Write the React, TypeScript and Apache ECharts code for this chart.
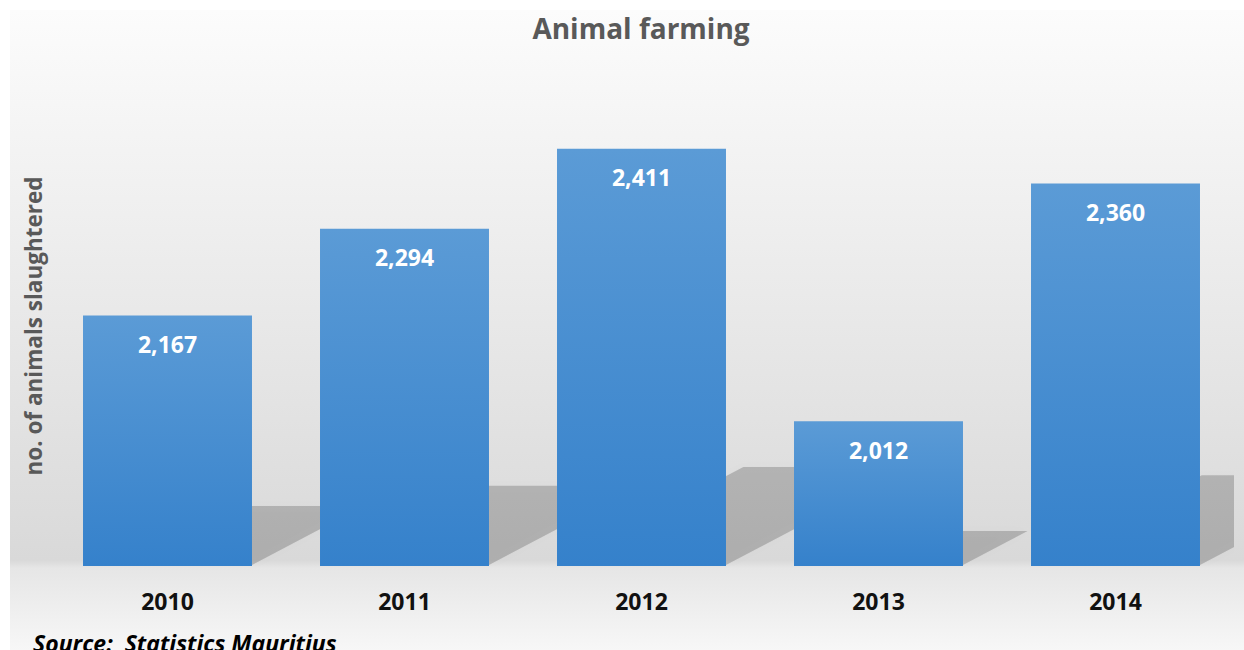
import React, { useEffect, useRef } from "react";
import * as echarts from "echarts";

const categories = ["2010", "2011", "2012", "2013", "2014"];
const slaughtered = [2167, 2294, 2411, 2012, 2360];
const axisMin = 1800;
const axisMax = 2500;
const titleText = "Animal farming";
const yTitle = "no. of animals slaughtered";
const sourceText = "Source:  Statistics Mauritius";

const FONT = "'Open Sans', 'DejaVu Sans', sans-serif";
const BAR_FRAC = 0.713;

export default function App() {
  const ref = useRef<HTMLDivElement>(null);
  useEffect(() => {
    if (!ref.current) return;
    const chart = echarts.init(ref.current, undefined, { renderer: "svg" });
    const option: any = {
      animation: false,
      textStyle: { fontFamily: FONT },
      grid: { left: 49, right: 10, top: 88, bottom: 84, containLabel: false },
      graphic: [
        {
          type: "rect",
          z: -10,
          silent: true,
          shape: { x: 10, y: 10, width: 1234, height: 640 },
          style: {
            fill: new echarts.graphic.LinearGradient(0, 0, 0, 1, [
              { offset: 0, color: "#fcfcfc" },
              { offset: 0.86, color: "#d9d9d9" },
              { offset: 0.872, color: "#e6e6e6" },
              { offset: 1, color: "#f7f7f7" },
            ]),
          },
        },
        {
          type: "text",
          x: 641,
          y: 28,
          style: {
            text: titleText,
            fill: "#595959",
            font: `bold 28px ${FONT}`,
            align: "center",
            verticalAlign: "middle",
          },
        },
        {
          type: "text",
          x: 33,
          y: 326,
          rotation: Math.PI / 2,
          style: {
            text: yTitle,
            fill: "#595959",
            font: `bold 22.5px ${FONT}`,
            align: "center",
            verticalAlign: "middle",
          },
        },
        {
          type: "text",
          x: 33,
          y: 631,
          style: {
            text: sourceText,
            fill: "#000000",
            font: `italic bold 23px ${FONT}`,
            align: "left",
            verticalAlign: "top",
          },
        },
      ],
      xAxis: {
        type: "category",
        data: categories,
        axisLine: { show: false },
        axisTick: { show: false },
        axisLabel: {
          color: "#111111",
          fontWeight: "bold",
          fontSize: 23,
          fontFamily: FONT,
          margin: 23,
        },
      },
      yAxis: {
        type: "value",
        min: axisMin,
        max: axisMax,
        show: false,
        splitLine: { show: false },
      },
      series: [
        {
          type: "custom",
          z: 1,
          clip: true,
          silent: true,
          data: slaughtered.map((v, i) => [i, v]),
          renderItem: (params: any, api: any) => {
            const idx = api.value(0);
            const v = api.value(1);
            const top = api.coord([idx, v]);
            const bottom = api.coord([idx, axisMin]);
            const bw = api.size([1, 0])[0] * BAR_FRAC;
            const x0 = top[0] - bw / 2;
            const x1 = top[0] + bw / 2;
            const h = bottom[1] - top[1];
            const sh = 0.235 * h;
            const dx = 1.9 * sh;
            const by = bottom[1] - 1;
            return {
              type: "polygon",
              shape: {
                points: [
                  [x0, by],
                  [x1, by],
                  [x1 + dx, by - sh],
                  [x0 + dx, by - sh],
                ],
              },
              style: {
                fill: "rgba(0,0,0,0.19)",
                shadowBlur: 8,
                shadowColor: "rgba(0,0,0,0.08)",
              },
            };
          },
        },
        {
          type: "bar",
          z: 2,
          data: slaughtered,
          barWidth: (BAR_FRAC * 100).toFixed(1) + "%",
          itemStyle: {
            color: new echarts.graphic.LinearGradient(0, 0, 0, 1, [
              { offset: 0, color: "#5b9bd6" },
              { offset: 1, color: "#3581cb" },
            ]),
          },
          label: {
            show: true,
            position: "insideTop",
            distance: 17,
            color: "#ffffff",
            fontWeight: "bold",
            fontSize: 23,
            fontFamily: FONT,
            formatter: (p: any) => Number(p.value).toLocaleString("en-US"),
          },
        },
      ],
    };
    chart.setOption(option);
    return () => chart.dispose();
  }, []);
  return (
    <div
      ref={ref}
      style={{ position: "absolute", left: 0, top: 0, width: 1244, height: 650 }}
    />
  );
}
